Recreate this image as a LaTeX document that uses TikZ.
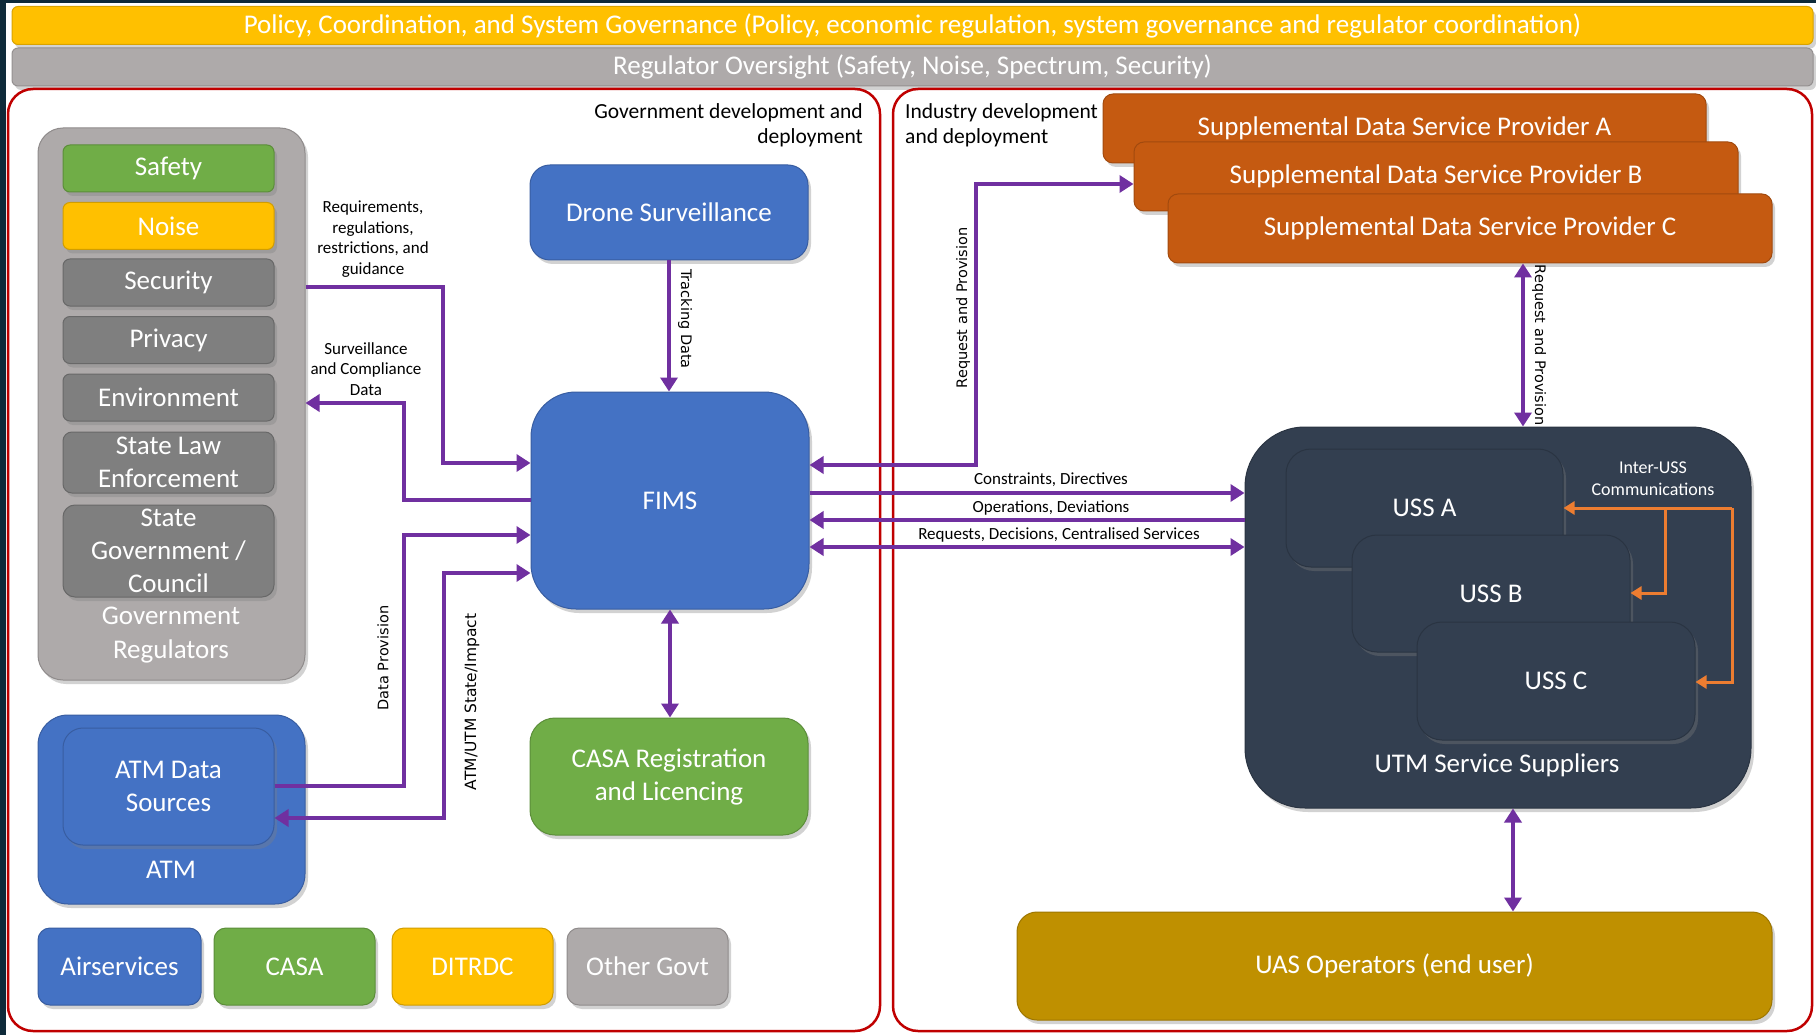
\documentclass[tikz,border=0pt]{standalone}
\usepackage{fontspec}
\setmainfont{Carlito}
\newfontfamily\vfont{DejaVu Sans}
\usetikzlibrary{arrows.meta,shadows}
\definecolor{bgdark}{HTML}{0E2A3A}
\definecolor{cyellow}{HTML}{FFC000}
\definecolor{cgray}{HTML}{AEAAAA}
\definecolor{cgreen}{HTML}{70AD47}
\definecolor{cdgray}{HTML}{7F7F7F}
\definecolor{cblue}{HTML}{4472C4}
\definecolor{corange}{HTML}{C55A11}
\definecolor{cslate}{HTML}{333F50}
\definecolor{cgold}{HTML}{BF9000}
\definecolor{cpurple}{HTML}{7030A0}
\definecolor{carrow}{HTML}{ED7D31}
\definecolor{cred}{HTML}{C00000}
\tikzset{
  shad/.style={drop shadow={shadow xshift=3pt,shadow yshift=-4pt,opacity=0.35}},
  bx/.style n args={4}{minimum width=#1, minimum height=#2, fill=#3, draw=#3!82!black, line width=1pt,
     rounded corners=#4, text=white, align=center, inner sep=0pt, shad,
     font=\fontsize{27}{33}\selectfont},
  bar/.style={minimum width=1801pt, minimum height=38pt, rounded corners=6pt, text=white, inner sep=0pt,
     line width=1pt, shad, font=\fontsize{27}{30}\selectfont},
  panel/.style={draw=cred, line width=2.5pt, rounded corners=25pt, fill=white, inner sep=0pt},
  wtxt/.style={text=white, align=center, inner sep=0pt, font=\fontsize{27}{34}\selectfont},
  lbl/.style={text=black, inner sep=0pt, font=\fontsize{21.5}{25}\selectfont},
  slbl/.style={text=black, inner sep=0pt, align=center, font=\fontsize{17}{20.5}\selectfont},
  vlbl/.style={text=black, inner sep=0pt, font=\vfont\fontsize{14.5}{16}\selectfont},
  parrow/.style={draw=cpurple, line width=4.5pt, >={Triangle[length=14pt,width=17pt]}},
  oarrow/.style={draw=carrow, line width=3pt, >={Triangle[length=11pt,width=13pt]}},
}
\begin{document}
\begin{tikzpicture}[x=1pt,y=-1pt]
\useasboundingbox (0,0) rectangle (1816,1035);
\fill[white] (0,0) rectangle (1816,1035);
\fill[bgdark] (0,0) rectangle (6,1035);
\fill[bgdark] (0,0) rectangle (1816,3);

% top bars
\node[bar, fill=cyellow, draw=cyellow!85!black] (policy) at (912.5,25.5)
  {Policy, Coordination, and System Governance (Policy, economic regulation, system governance and regulator coordination)};
\node[bar, fill=cgray, draw=cgray!85!black] (oversight) at (912.5,67)
  {Regulator Oversight (Safety, Noise, Spectrum, Security)};

% panels
\node[panel, minimum width=872pt, minimum height=942pt] (govpanel) at (444,560) {};
\node[panel, minimum width=919pt, minimum height=942pt] (indpanel) at (1352.5,560) {};

\node[lbl, anchor=east, align=right] (govtxt) at (863,125.5) {Government development and\\deployment};
\node[lbl, anchor=west, align=left] (indtxt) at (905,125.5) {Industry development\\and deployment};

% government regulators
\node[bx={267pt}{552pt}{cgray}{25pt}] (govreg) at (171.5,404) {};
\node[bx={211pt}{47pt}{cgreen}{7pt}] (safety) at (168.5,168.5) {Safety};
\node[bx={211pt}{47pt}{cyellow}{7pt}] (noise) at (168.5,226) {Noise};
\node[bx={211pt}{47pt}{cdgray}{7pt}] (security) at (168.5,282.5) {Security};
\node[bx={211pt}{47pt}{cdgray}{7pt}] (privacy) at (168.5,340) {Privacy};
\node[bx={211pt}{47pt}{cdgray}{7pt}] (environment) at (168.5,397.5) {Environment};
\node[bx={211pt}{61pt}{cdgray}{9pt}] (statelaw) at (168.5,462.5) {State Law\\Enforcement};
\node[bx={211pt}{92pt}{cdgray}{12pt}] (stategov) at (168.5,551) {State\\Government /\\Council};
\node[wtxt] (govreglbl) at (171,635) {Government\\Regulators};

% ATM
\node[bx={267pt}{189pt}{cblue}{30pt}] (atm) at (171.5,809.5) {};
\node[bx={211pt}{117pt}{cblue}{20pt}] (atmds) at (168.5,786.5) {ATM Data\\Sources};
\node[wtxt] (atmlbl) at (171,870) {ATM};

% legend
\node[bx={163pt}{77pt}{cblue}{12pt}] (airservices) at (119.5,966.5) {Airservices};
\node[bx={161pt}{77pt}{cgreen}{12pt}] (casa) at (294.5,966.5) {CASA};
\node[bx={161pt}{77pt}{cyellow}{12pt}] (ditrdc) at (472.5,966.5) {DITRDC};
\node[bx={161pt}{77pt}{cgray}{12pt}] (othergovt) at (647.5,966.5) {Other Govt};

% central
\node[bx={278pt}{95pt}{cblue}{20pt}] (drone) at (669,212.5) {Drone Surveillance};
\node[bx={278pt}{217pt}{cblue}{45pt}] (fims) at (670,500.5) {FIMS};
\node[bx={278pt}{117pt}{cgreen}{25pt}] (casareg) at (669,776.5) {CASA Registration\\and Licencing};

% supplemental data service providers
\node[bx={603pt}{69pt}{corange}{10pt}] (sdspA) at (1404.5,128.5) {Supplemental Data Service Provider A};
\node[bx={604pt}{69pt}{corange}{10pt}] (sdspB) at (1436,176.5) {Supplemental Data Service Provider B};
\node[bx={604pt}{69pt}{corange}{10pt}] (sdspC) at (1470,228.5) {Supplemental Data Service Provider C};

% UTM
\node[bx={506pt}{381pt}{cslate}{60pt}] (utm) at (1498,617.5) {};
\node[bx={277pt}{118pt}{cslate}{25pt}] (ussA) at (1424.5,508) {USS A};
\node[bx={278pt}{117pt}{cslate}{25pt}] (ussB) at (1491,593.5) {USS B};
\node[bx={278pt}{118pt}{cslate}{25pt}] (ussC) at (1556,681) {USS C};
\node[wtxt] (utmlbl) at (1497,765) {UTM Service Suppliers};
\node[wtxt, font=\fontsize{18}{22}\selectfont] (interlbl) at (1653,479) {Inter-USS\\Communications};

\node[bx={755pt}{108pt}{cgold}{20pt}] (uas) at (1394.5,966) {UAS Operators (end user)};

% purple connectors
\draw[parrow,->] (drone.south) -- (drone.south |- fims.north);
\node[vlbl, rotate=-90] (trklbl) at (685,319) {Tracking Data};

\draw[parrow,->] (govreg.east |- 0,287) -| (443,463) -- (fims.west |- 0,463);
\node[slbl] (reqlbl) at (373,239) {Requirements,\\regulations,\\restrictions, and\\guidance};

\draw[parrow,->] (fims.west |- 0,500) -| (404,403) -- (govreg.east |- 0,403);
\node[slbl] (survlbl) at (366,369) {Surveillance\\and Compliance\\Data};

\draw[parrow,->] (atmds.east |- 0,786) -| (404,535) -- (fims.west |- 0,535);
\node[vlbl, rotate=90] (dplbl) at (383,658) {Data Provision};

\draw[parrow,<->] (atmds.east |- 0,818) -| (444,573) -- (fims.west |- 0,573);
\node[vlbl, rotate=90, font=\vfont\fontsize{15.5}{17}\selectfont] (atmutmlbl) at (472,702) {ATM/UTM State/Impact};

\draw[parrow,<->] (fims.south) -- (fims.south |- casareg.north);

\draw[parrow,<->] (fims.east |- 0,465) -| (976,184) -- (sdspB.west |- 0,184);
\node[vlbl, rotate=90] (rp1lbl) at (963,308) {Request and Provision};

\draw[parrow,->] (fims.east |- 0,493) -- (utm.west |- 0,493);
\node[slbl] (conlbl) at (1051,480) {Constraints, Directives};
\draw[parrow,->] (utm.west |- 0,520) -- (fims.east |- 0,520);
\node[slbl] (opslbl) at (1051,508) {Operations, Deviations};
\draw[parrow,<->] (fims.east |- 0,547) -- (utm.west |- 0,547);
\node[slbl] (rqslbl) at (1059,535) {Requests, Decisions, Centralised Services};

\coordinate (rpx) at (1523,0);
\draw[parrow,<->] (rpx |- sdspC.south) -- (rpx |- utm.north);
\node[vlbl, rotate=-90] (rp2lbl) at (1539,345) {Request and Provision};

\coordinate (uasx) at (1513,0);
\draw[parrow,<->] (uasx |- utm.south) -- (uasx |- uas.north);

% orange inter-USS
\coordinate (ob) at (1665,508);
\coordinate (oc) at (1732,508);
\draw[oarrow,->] (oc) -- (ussA.east |- oc);
\draw[oarrow,->] (ob) |- (ussB.east |- 0,593);
\draw[oarrow,->] (oc) |- (ussC.east |- 0,682);
\end{tikzpicture}
\end{document}
